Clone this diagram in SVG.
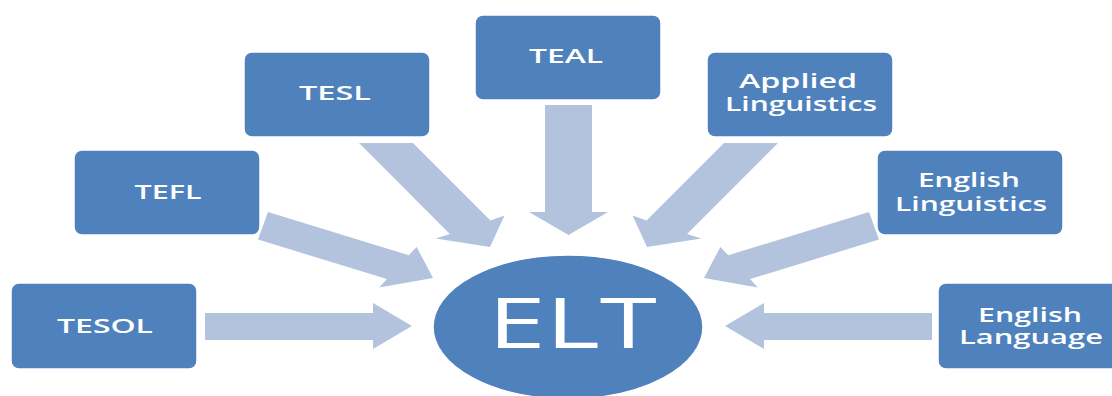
<svg xmlns="http://www.w3.org/2000/svg" width="1112" height="396" viewBox="0 0 1112 396">
  <style>
    .box { fill: #4F81BD; stroke: #FFFFFF; stroke-width: 1.5; }
    .arrow { fill: #B3C3DE; stroke: none; }
    .lbl { font-family: "Open Sans", "Liberation Sans", sans-serif; font-size: 19.5px; font-weight: 600; fill: #FFFFFF; text-anchor: middle; }
    .big { font-family: "Open Sans", "Liberation Sans", sans-serif; font-size: 70px; font-weight: 500; fill: #FFFFFF; text-anchor: middle; }
  </style>
  <rect width="1112" height="396" fill="#FFFFFF"/>
  <g id="connectors">
    <polygon class="arrow" points="205,313 373,313 373,303 412,326 373,349 373,340 205,340"/>
    <polygon class="arrow" points="268,212.1 408.8,255.3 416.6,246.9 433,278 379.2,287.5 386.9,279.1 258,239.5"/>
    <polygon class="arrow" points="359,143 413,143 490.4,220.4 504.5,215.6 490,247 435.7,238.6 449.9,233.9"/>
    <polygon class="arrow" points="545,105 592,105 592,212 608,212 568.5,235 529,212 545,212"/>
    <polygon class="arrow" points="778,143 724,143 646.6,220.4 632.5,215.6 647,247 701.3,238.6 687.1,233.9"/>
    <polygon class="arrow" points="869,212.1 728.2,255.3 720.4,246.9 704,278 757.8,287.5 750.1,279.1 879,239.5"/>
    <polygon class="arrow" points="932,313 764,313 764,303 725,326 764,349 764,340 932,340"/>
  </g>
  <g id="node-elt">
    <ellipse cx="568" cy="327" rx="135" ry="72" fill="#4F81BD" stroke="#FFFFFF" stroke-width="1.5"/>
    <text class="big" x="572.5" y="348" textLength="169" lengthAdjust="spacingAndGlyphs">ELT</text>
  </g>
  <g id="node-tesol">
    <rect class="box" x="11" y="283" width="186" height="86" rx="8"/>
    <text class="lbl" x="105" y="333" textLength="96" lengthAdjust="spacingAndGlyphs">TESOL</text>
  </g>
  <g id="node-tefl">
    <rect class="box" x="74" y="150" width="186" height="85" rx="8"/>
    <text class="lbl" x="168" y="199" textLength="67" lengthAdjust="spacingAndGlyphs">TEFL</text>
  </g>
  <g id="node-tesl">
    <rect class="box" x="244" y="52" width="186" height="85" rx="8"/>
    <text class="lbl" x="335" y="100" textLength="72" lengthAdjust="spacingAndGlyphs">TESL</text>
  </g>
  <g id="node-teal">
    <rect class="box" x="475" y="15" width="186" height="85" rx="8"/>
    <text class="lbl" x="566" y="63" textLength="74" lengthAdjust="spacingAndGlyphs">TEAL</text>
  </g>
  <g id="node-applied-linguistics">
    <rect class="box" x="707" y="52" width="186" height="85" rx="8"/>
    <text class="lbl" x="798" y="88" textLength="118" lengthAdjust="spacingAndGlyphs">Applied</text>
    <text class="lbl" x="801" y="111" textLength="152" lengthAdjust="spacingAndGlyphs">Linguistics</text>
  </g>
  <g id="node-english-linguistics">
    <rect class="box" x="877" y="150" width="186" height="85" rx="8"/>
    <text class="lbl" x="969" y="187" textLength="102" lengthAdjust="spacingAndGlyphs">English</text>
    <text class="lbl" x="971" y="211" textLength="152" lengthAdjust="spacingAndGlyphs">Linguistics</text>
  </g>
  <g id="node-english-language">
    <rect class="box" x="938" y="283" width="186" height="86" rx="8"/>
    <text class="lbl" x="1030" y="322" textLength="104" lengthAdjust="spacingAndGlyphs">English</text>
    <text class="lbl" x="1031" y="344" textLength="144" lengthAdjust="spacingAndGlyphs">Language</text>
  </g>
</svg>
